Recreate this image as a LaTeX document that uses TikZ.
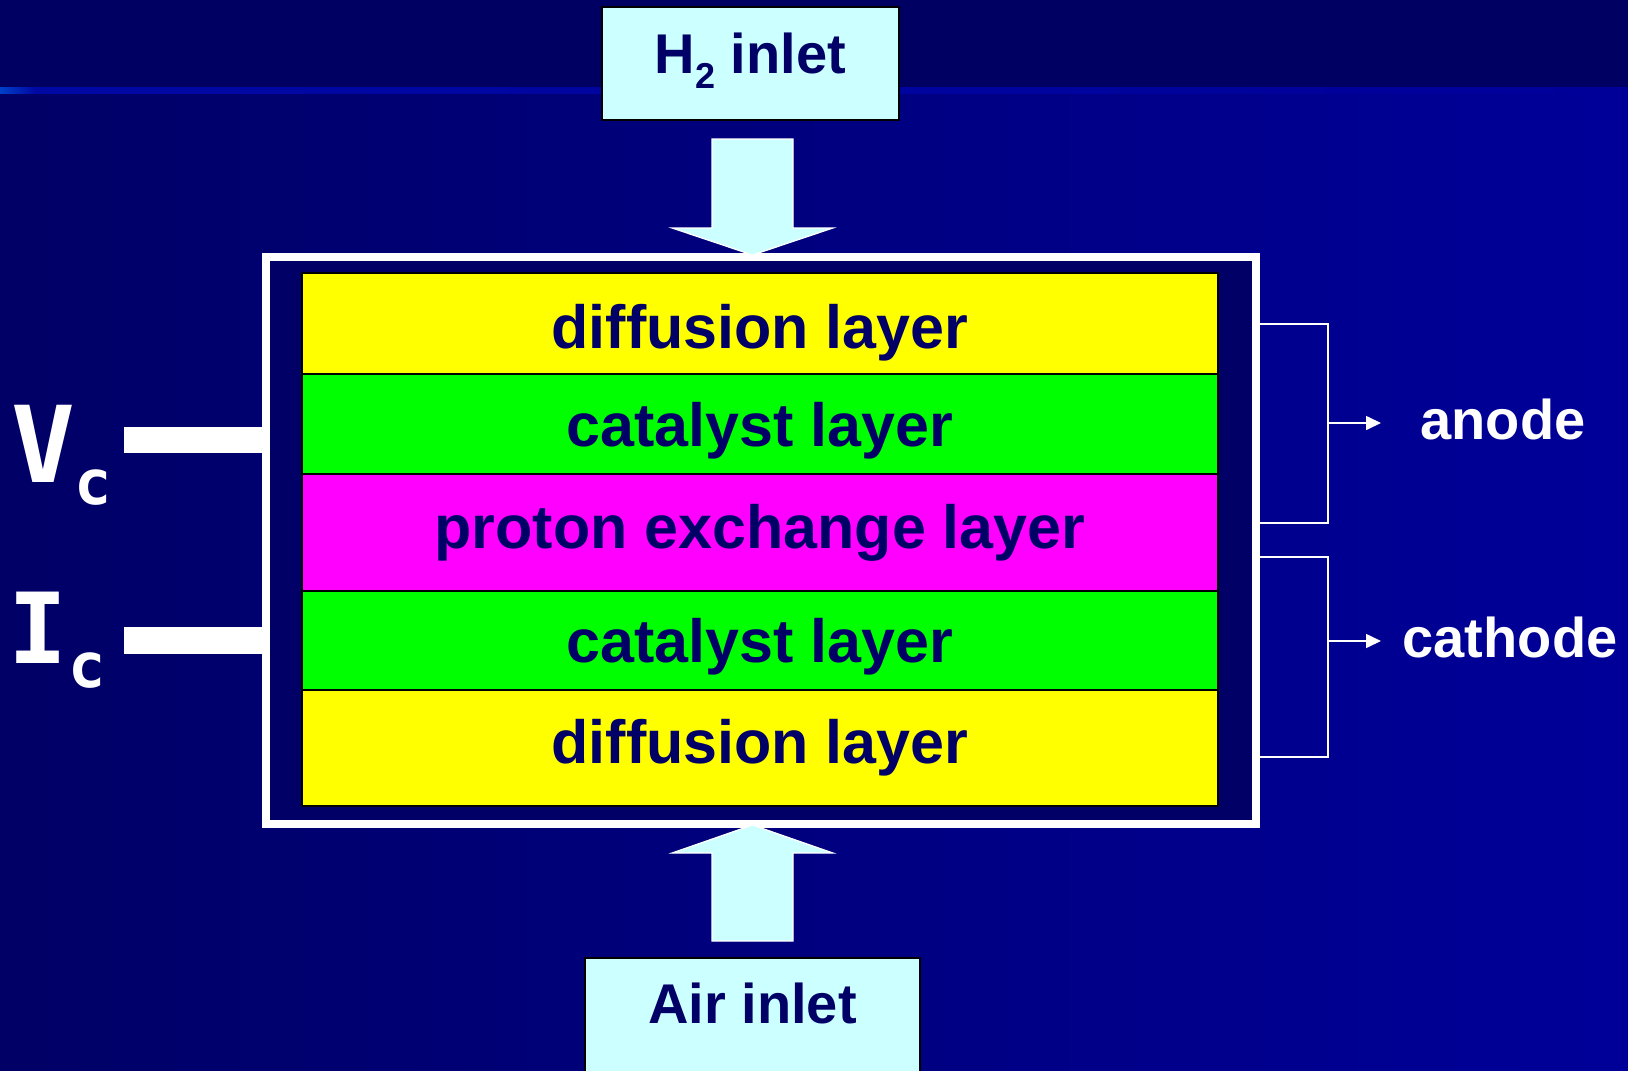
\documentclass[tikz,border=0pt]{standalone}
\usepackage{fontspec}
\setmainfont{Liberation Sans}
\newfontfamily\monofnt{DejaVu Sans Mono}
\usetikzlibrary{arrows.meta}
\definecolor{bgTop}{HTML}{000062}
\definecolor{bgL}{HTML}{000066}
\definecolor{bgR}{HTML}{000099}
\definecolor{navy}{HTML}{000066}
\definecolor{inletcyan}{HTML}{CCFFFF}
\definecolor{stripeL}{HTML}{0040C8}
\definecolor{stripeM}{HTML}{0008A4}
\definecolor{layeryellow}{HTML}{FFFF00}
\definecolor{layergreen}{HTML}{00FF00}
\definecolor{layermagenta}{HTML}{FF00FF}
\begin{document}
\begin{tikzpicture}[x=1pt,y=-1pt,
  layerbox/.style={draw=black, line width=1.5pt, minimum width=916pt, inner sep=0pt, outer sep=0pt,
    text height=44pt, text depth=0pt, text=navy, font=\bfseries\fontsize{61}{61}\selectfont},
  inletbox/.style={draw=black, fill=inletcyan, line width=1.5pt, inner sep=0pt, outer sep=0pt,
    text height=40pt, text depth=0pt, text=navy, font=\bfseries\fontsize{56}{56}\selectfont},
  blockarrow/.style={fill=inletcyan, draw=white, line width=1.2pt, line join=miter},
  framebox/.style={draw=white, line width=8pt, fill=navy, inner sep=0pt, outer sep=0pt},
  bar/.style={draw=white, line width=26.5pt, line cap=butt},
  bracketline/.style={draw=white, line width=1.6pt},
  pointer/.style={draw=white, line width=1.6pt, -{Triangle[length=15pt,width=14pt]}},
  sidelabel/.style={text=white, font=\bfseries\fontsize{56}{56}\selectfont, anchor=base, inner sep=0pt},
  vilabel/.style={text=white, anchor=base west, inner sep=0pt, font=\monofnt\bfseries}
]
\useasboundingbox (0,0) rectangle (1628,1071);
% background
\shade[left color=bgL, right color=bgR] (0,88) rectangle (1628,1071);
\fill[bgTop] (0,0) rectangle (1628,88);
\shade[left color=stripeM, right color=bgR] (0,87) rectangle (1628,93);
\shade[left color=stripeL, right color=stripeM] (0,87) rectangle (35,93);

% frame
\node[framebox, minimum width=990pt, minimum height=567pt] (frame) at (761,540.5) {};

% layers
\node[layerbox, fill=layeryellow, minimum height=101pt] (dif1) at (760,323.5) {\raisebox{-2.5pt}{diffusion layer}};
\node[layerbox, fill=layergreen, minimum height=100pt] (cat1) at (760,424) {catalyst layer};
\node[layerbox, fill=layermagenta, minimum height=117pt] (pem) at (760,532.5) {\raisebox{6.5pt}{proton exchange layer}};
\node[layerbox, fill=layergreen, minimum height=99pt] (cat2) at (760,640.5) {catalyst layer};
\node[layerbox, fill=layeryellow, minimum height=116pt] (dif2) at (760,748) {\raisebox{7pt}{diffusion layer}};

% inlet boxes
\node[inletbox, minimum width=297pt, minimum height=113pt] (h2) at (750.5,63.5)
  {\raisebox{10.5pt}{H\raisebox{-15pt}{\fontsize{36}{36}\selectfont 2} inlet}};
\node[inletbox, minimum width=335pt, minimum height=124pt] (air) at (752.5,1020)
  {\raisebox{17pt}{Air inlet}};

% block arrows
\draw[blockarrow] (712,139) -- (793,139) -- (793,228) -- (833,228) -- (752.5,255)
  -- (672,228) -- (712,228) -- cycle;
\draw[blockarrow] (712,941) -- (793,941) -- (793,853) -- (833,853) -- (752.5,825)
  -- (672,853) -- (712,853) -- cycle;

% Vc, Ic terminals
\coordinate (vcend) at (124,440);
\coordinate (icend) at (124,640.5);
\draw[bar] (vcend) -- (frame.west |- vcend);
\draw[bar] (icend) -- (frame.west |- icend);
\node[vilabel] (vc) at (11,482) {\fontsize{106}{106}\selectfont V\kern-1pt\raisebox{-22pt}{\fontsize{62}{62}\selectfont c}};
\node[vilabel] (ic) at (8,663) {\fontsize{98}{98}\selectfont I\kern1pt\raisebox{-24pt}{\fontsize{62}{62}\selectfont c}};

% brackets
\coordinate (a1) at (1260,324);
\coordinate (a2) at (1260,523);
\coordinate (c1) at (1260,557);
\coordinate (c2) at (1260,757);
\draw[bracketline] (a1) -- (1328,324) -- (1328,523) -- (a2);
\draw[bracketline] (c1) -- (1328,557) -- (1328,757) -- (c2);
\node[sidelabel] (anode) at (1503,439) {anode};
\node[sidelabel] (cathode) at (1510,657) {cathode};
\coordinate (aend) at (1381,423);
\coordinate (cend) at (1381,641);
\draw[pointer] (1328,423) -- (aend);
\draw[pointer] (1328,641) -- (cend);
\end{tikzpicture}
\end{document}
